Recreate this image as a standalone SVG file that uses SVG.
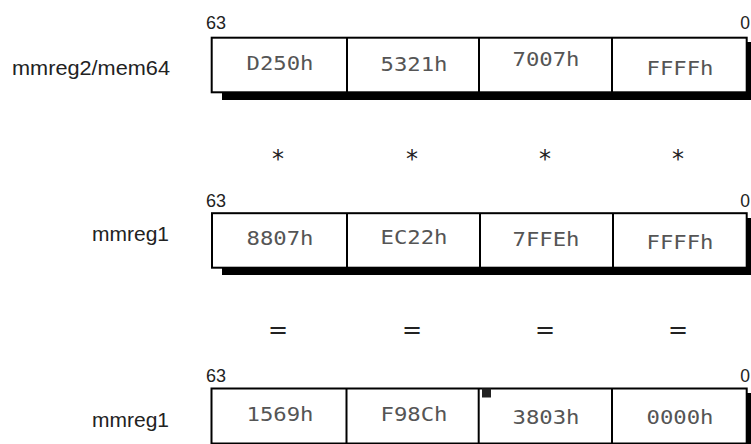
<svg xmlns="http://www.w3.org/2000/svg" width="751" height="444" viewBox="0 0 751 444">
<style>
.box{fill:#fff;stroke:#000;stroke-width:2}
.shadow{fill:#000}
.div{stroke:#000;stroke-width:2}
.lbl{font-family:"Liberation Sans",Arial,sans-serif;font-size:21px;fill:#222;text-anchor:end}
.bit{font-family:"Liberation Sans",Arial,sans-serif;font-size:17.5px;fill:#222}
.val{font-family:"DejaVu Sans Mono","Liberation Mono",monospace;font-size:20px;fill:#555;text-anchor:middle}
.op{font-family:"DejaVu Sans",sans-serif;font-size:24px;fill:#222;text-anchor:middle}
</style>
<rect width="751" height="444" fill="#fff"/>
<g id="row1">
<text class="lbl" x="170" y="75" textLength="158" lengthAdjust="spacingAndGlyphs">mmreg2/mem64</text>
<text class="bit" x="206" y="29" textLength="20" lengthAdjust="spacingAndGlyphs">63</text>
<text class="bit" x="750" y="29" text-anchor="end">0</text>
<rect class="shadow" x="222" y="42" width="540" height="58"/>
<rect class="box" x="211.7" y="37.7" width="535" height="54.6"/>
<line class="div" x1="347" y1="37.7" x2="347" y2="92.3"/>
<line class="div" x1="479" y1="37.7" x2="479" y2="92.3"/>
<line class="div" x1="612" y1="37.7" x2="612" y2="92.3"/>
<text class="val" x="280" y="70" textLength="67" lengthAdjust="spacingAndGlyphs">D250h</text>
<text class="val" x="414" y="71" textLength="67" lengthAdjust="spacingAndGlyphs">5321h</text>
<text class="val" x="546" y="66" textLength="67" lengthAdjust="spacingAndGlyphs">7007h</text>
<text class="val" x="680" y="75" textLength="67" lengthAdjust="spacingAndGlyphs">FFFFh</text>
</g>
<g id="ops1">
<text class="op" x="278" y="167">*</text>
<text class="op" x="412" y="167">*</text>
<text class="op" x="545" y="167">*</text>
<text class="op" x="678" y="167">*</text>
</g>
<g id="row2">
<text class="lbl" x="169" y="241" textLength="77" lengthAdjust="spacingAndGlyphs">mmreg1</text>
<text class="bit" x="206" y="206.5" textLength="20" lengthAdjust="spacingAndGlyphs">63</text>
<text class="bit" x="750" y="206.5" text-anchor="end">0</text>
<rect class="shadow" x="222" y="218" width="540" height="57"/>
<rect class="box" x="212" y="213.2" width="534.7" height="54.5"/>
<line class="div" x1="347" y1="213.2" x2="347" y2="267.7"/>
<line class="div" x1="480" y1="213.2" x2="480" y2="267.7"/>
<line class="div" x1="613" y1="213.2" x2="613" y2="267.7"/>
<text class="val" x="280" y="245" textLength="67" lengthAdjust="spacingAndGlyphs">8807h</text>
<text class="val" x="414" y="244" textLength="67" lengthAdjust="spacingAndGlyphs">EC22h</text>
<text class="val" x="546" y="246" textLength="67" lengthAdjust="spacingAndGlyphs">7FFEh</text>
<text class="val" x="680" y="249" textLength="67" lengthAdjust="spacingAndGlyphs">FFFFh</text>
</g>
<g id="ops2">
<text class="op" x="278" y="338">=</text>
<text class="op" x="412" y="338">=</text>
<text class="op" x="545" y="338">=</text>
<text class="op" x="678" y="338">=</text>
</g>
<g id="row3">
<text class="lbl" x="169" y="427" textLength="77" lengthAdjust="spacingAndGlyphs">mmreg1</text>
<text class="bit" x="206" y="382" textLength="20" lengthAdjust="spacingAndGlyphs">63</text>
<text class="bit" x="750" y="382" text-anchor="end">0</text>
<rect class="shadow" x="222" y="393" width="540" height="60"/>
<rect class="box" x="211.5" y="388.5" width="535.2" height="55"/>
<line class="div" x1="346.5" y1="388.5" x2="346.5" y2="443.5"/>
<line class="div" x1="478.7" y1="388.5" x2="478.7" y2="443.5"/>
<line class="div" x1="612" y1="388.5" x2="612" y2="443.5"/>
<rect x="482" y="388.5" width="9" height="9" fill="#222"/>
<text class="val" x="280" y="421" textLength="67" lengthAdjust="spacingAndGlyphs">1569h</text>
<text class="val" x="414" y="421" textLength="67" lengthAdjust="spacingAndGlyphs">F98Ch</text>
<text class="val" x="546" y="424" textLength="67" lengthAdjust="spacingAndGlyphs">3803h</text>
<text class="val" x="680" y="424" textLength="67" lengthAdjust="spacingAndGlyphs">0000h</text>
</g>
</svg>
